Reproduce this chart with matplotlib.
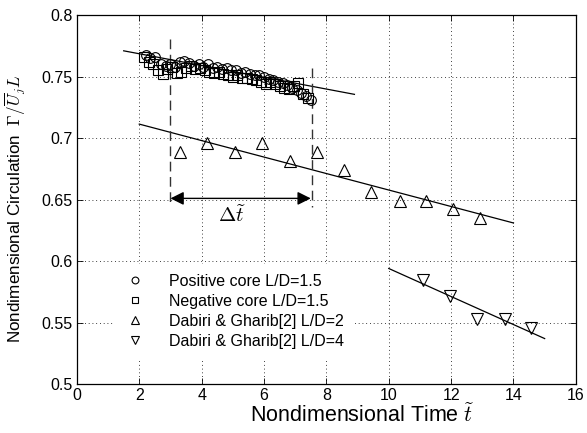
import matplotlib
matplotlib.use("Agg")
import matplotlib.pyplot as plt
import numpy as np

plt.rcParams['font.family'] = ['Liberation Sans', 'DejaVu Sans']
plt.rcParams['mathtext.fontset'] = 'cm'

# Positive core L/D=1.5
pos_t = [2.2, 2.35, 2.5, 2.7, 2.85, 3.0, 3.15, 3.3, 3.45, 3.6, 3.75, 3.9, 4.05, 4.2, 4.35, 4.5,
         4.65, 4.8, 4.95, 5.1, 5.25, 5.4, 5.55, 5.7, 5.85, 6.0, 6.15, 6.3, 6.45, 6.6, 6.75, 6.9,
         7.05, 7.2, 7.35, 7.5]
pos_g = [0.768, 0.765, 0.766, 0.760, 0.759, 0.760, 0.758, 0.762, 0.763, 0.761, 0.759, 0.760,
         0.758, 0.760, 0.757, 0.758, 0.756, 0.757, 0.755, 0.755, 0.753, 0.754, 0.752, 0.751,
         0.751, 0.750, 0.748, 0.747, 0.746, 0.745, 0.743, 0.741, 0.739, 0.737, 0.734, 0.731]

# Negative core L/D=1.5
neg_t = [2.15, 2.3, 2.45, 2.6, 2.75, 2.9, 3.05, 3.2, 3.35, 3.5, 3.65, 3.8, 3.95, 4.1, 4.25, 4.4,
         4.55, 4.7, 4.85, 5.0, 5.15, 5.3, 5.45, 5.6, 5.75, 5.9, 6.05, 6.2, 6.35, 6.5, 6.65, 6.8,
         6.95, 7.1, 7.25, 7.4]
neg_g = [0.766, 0.762, 0.760, 0.755, 0.752, 0.756, 0.758, 0.753, 0.754, 0.757, 0.759, 0.756,
         0.757, 0.755, 0.754, 0.753, 0.754, 0.752, 0.751, 0.750, 0.751, 0.749, 0.749, 0.748,
         0.747, 0.746, 0.744, 0.746, 0.744, 0.742, 0.741, 0.740, 0.742, 0.745, 0.736, 0.733]

# Dabiri & Gharib L/D=2
dg2_t = [3.30, 4.17, 5.07, 5.95, 6.83, 7.70, 8.56, 9.43, 10.35, 11.19, 12.06, 12.94]
dg2_g = [0.689, 0.696, 0.689, 0.696, 0.681, 0.689, 0.674, 0.656, 0.649, 0.649, 0.642, 0.635]

# Dabiri & Gharib L/D=4
dg4_t = [11.10, 11.98, 12.84, 13.73, 14.55]
dg4_g = [0.585, 0.572, 0.553, 0.553, 0.546]

# fit lines (endpoints)
fit_core_t = [1.5, 8.9]
fit_core_g = [0.771, 0.7356]
fit_dg2_t = [2.0, 14.0]
fit_dg2_g = [0.7114, 0.631]
fit_dg4_t = [10.0, 15.0]
fit_dg4_g = [0.594, 0.537]

fig = plt.figure(figsize=(5.87, 4.33), dpi=100)
ax = fig.add_axes([0.131, 0.113, 0.850, 0.852])

ms = 7
ax.plot(pos_t, pos_g, 'o', mfc='none', mec='k', ms=ms, mew=0.8, label='Positive core L/D=1.5', zorder=3)
ax.plot(neg_t, neg_g, 's', mfc='none', mec='k', ms=ms, mew=0.8, label='Negative core L/D=1.5', zorder=3)
ax.plot(dg2_t, dg2_g, '^', mfc='none', mec='k', ms=ms + 1, mew=0.8, label='Dabiri & Gharib[2] L/D=2', zorder=3)
ax.plot(dg4_t, dg4_g, 'v', mfc='none', mec='k', ms=ms + 1, mew=0.8, label='Dabiri & Gharib[2] L/D=4', zorder=3)

ax.plot(fit_core_t, fit_core_g, 'k-', lw=0.9, zorder=2)
ax.plot(fit_dg2_t, fit_dg2_g, 'k-', lw=0.9, zorder=2)
ax.plot(fit_dg4_t, fit_dg4_g, 'k-', lw=0.9, zorder=2)

# dashed markers of delta t
ax.plot([3.0, 3.0], [0.781, 0.646], color='#333333', lw=1.0, ls=(0, (7, 4)), zorder=2)
ax.plot([7.55, 7.55], [0.757, 0.644], color='#333333', lw=1.0, ls=(0, (7, 4)), zorder=2)
ax.annotate('', xy=(3.0, 0.651), xytext=(7.5, 0.651),
            arrowprops=dict(arrowstyle='<|-|>', color='k', lw=1.0,
                            mutation_scale=20, shrinkA=0, shrinkB=0))
ax.text(4.96, 0.637, r'$\Delta\widetilde{t}$', fontsize=15, ha='center', va='center')

ax.set_xlim(0, 16)
ax.set_ylim(0.5, 0.8)
ax.set_xticks(np.arange(0, 17, 2))
ax.set_yticks([0.5, 0.55, 0.6, 0.65, 0.7, 0.75, 0.8])
ax.set_yticklabels(['0.5', '0.55', '0.6', '0.65', '0.7', '0.75', '0.8'])
ax.tick_params(direction='in', top=True, right=True, labelsize=11.5, length=4, width=0.6, pad=3)
ax.grid(True, color='k', ls=(0, (1, 3.5)), lw=0.6)
for s in ax.spines.values():
    s.set_linewidth(0.9)

ax.set_xlabel(r'Nondimensional Time $\widetilde{t}$', fontsize=15.5, labelpad=0)
ax.xaxis.set_label_coords(0.572, -0.053)
ax.set_ylabel(r'Nondimensional Circulation  $\Gamma/\overline{U}_jL$', fontsize=12.3, labelpad=4)
ax.yaxis.set_label_coords(-0.10, 0.475)

leg = ax.legend(loc='upper left', bbox_to_anchor=(0.074, 0.325), fontsize=11.5,
                markerscale=0.7, frameon=True, fancybox=False, framealpha=1,
                edgecolor='white', borderpad=0.6, borderaxespad=0, handlelength=1.5,
                handletextpad=1.375, labelspacing=0.32)
leg.get_frame().set_linewidth(0)
leg.set_zorder(5)

fig.savefig('out.png', dpi=100)
